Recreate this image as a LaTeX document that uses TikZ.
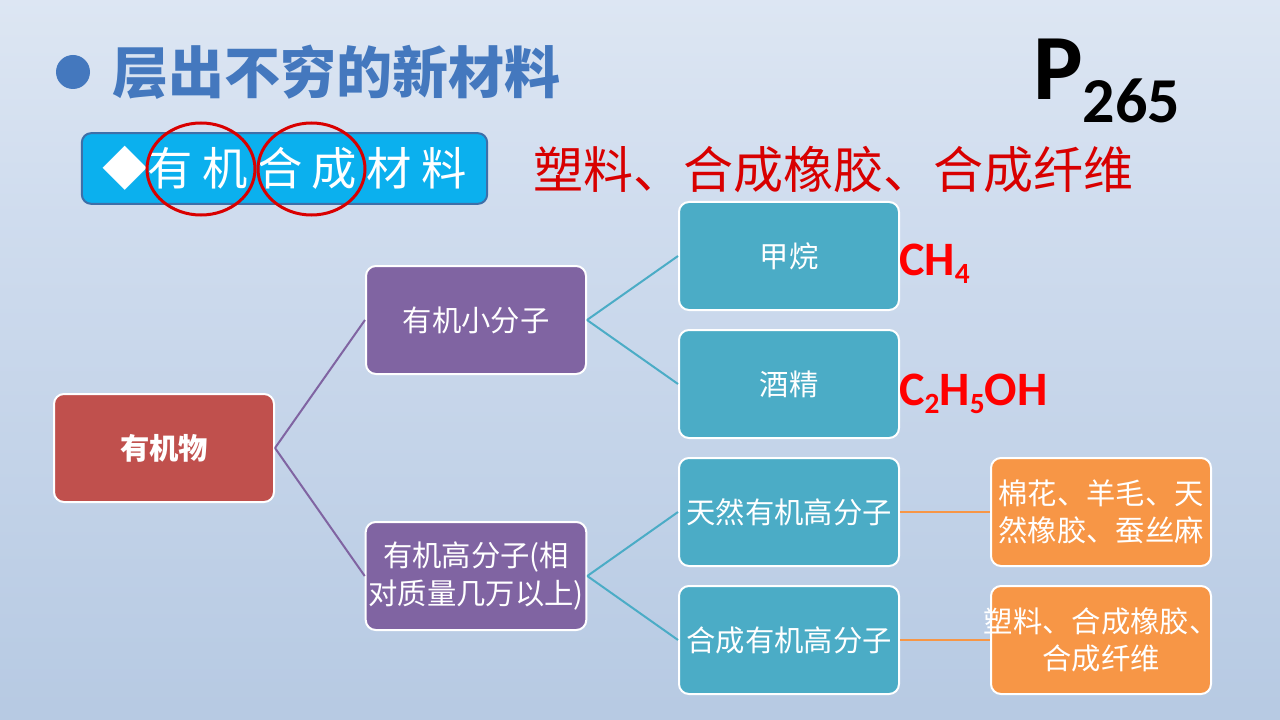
\documentclass[tikz,border=0pt]{standalone}
\usepackage{fontspec}
\setmainfont{Carlito}
\newfontfamily\cjk{Noto Sans CJK SC}
\usetikzlibrary{positioning}
\definecolor{rootred}{HTML}{C0504D}
\definecolor{midpurple}{HTML}{8064A2}
\definecolor{leafteal}{HTML}{4BACC6}
\definecolor{exorange}{HTML}{F79646}
\definecolor{titleblue}{HTML}{4478BE}
\definecolor{tagcyan}{HTML}{0BB0EE}
\definecolor{tagedge}{HTML}{3E6FA8}
\definecolor{headred}{HTML}{D80000}
\definecolor{bgtop}{HTML}{F4F7FB}
\definecolor{bgmid}{HTML}{CFDCEE}
\definecolor{bglow}{HTML}{B3C7E1}
\definecolor{bgbot}{HTML}{C4D4E9}
\pgfdeclareverticalshading{slidebg}{100bp}{color(0bp)=(bgbot); color(20bp)=(bglow); color(60bp)=(bgmid); color(100bp)=(bgtop)}
\newcommand{\chemsub}[1]{\raisebox{-6pt}{\fontsize{22}{22}\selectfont #1}}
\tikzset{
  orgbox/.style={draw=white, line width=1.5pt, rounded corners=7.5pt, align=center, minimum width=165pt, minimum height=81pt, inner sep=2pt, text=white, font=\cjk\fontsize{22}{28}\selectfont},
  rootbox/.style={orgbox, fill=rootred, font=\cjk\bfseries\fontsize{22}{28}\selectfont},
  midbox/.style={orgbox, fill=midpurple},
  leafbox/.style={orgbox, fill=leafteal},
  examplebox/.style={orgbox, fill=exorange},
  rootlink/.style={draw=midpurple, line width=1.5pt},
  midlink/.style={draw=leafteal, line width=1.5pt},
  leaflink/.style={draw=exorange, line width=1.5pt},
  formula/.style={anchor=base west, inner sep=0pt, text=red, font=\bfseries\fontsize{36}{36}\selectfont},
  ring/.style={draw=red!85!black, line width=2.25pt}
}
\begin{document}
\begin{tikzpicture}[x=0.75pt, y=-0.75pt]
\useasboundingbox (0,0) rectangle (1280,720);
\shade[shading=slidebg] (0,0) rectangle (1280,720);
% heading
\fill[titleblue] (73,72) circle [radius=17];
\node[anchor=west, inner sep=0pt, text=titleblue, font=\cjk\bfseries\fontsize{42}{42}\selectfont] (title) at (112,72) {层出不穷的新材料};
\node[anchor=base west, inner sep=0pt, font=\bfseries\fontsize{70}{70}\selectfont] (page) at (1033,100) {P\raisebox{-17pt}{\fontsize{48}{48}\selectfont 265}};
\node[draw=tagedge, line width=1.5pt, fill=tagcyan, rounded corners=7pt, minimum width=304pt, minimum height=53pt, text=white, font=\cjk\fontsize{34}{34}\selectfont] (tag) at (284.5,168.5) {◆有\hspace{7pt}机\hspace{7pt}合\hspace{7pt}成\hspace{7pt}材\hspace{7pt}料};
\draw[ring] (201,169) ellipse [x radius=54, y radius=46];
\draw[ring] (311.5,169) ellipse [x radius=53.5, y radius=46];
\node[anchor=west, inner sep=0pt, text=headred, font=\cjk\fontsize{37.5}{37.5}\selectfont] (kinds) at (533,170) {塑料、合成橡胶、合成纤维};
% tree
\node[rootbox] (organic) at (164,448) {有机物};
\node[midbox] (small) at (476,320) {有机小分子};
\node[midbox] (polymer) at (476,576) {有机高分子(相\\对质量几万以上)};
\node[leafbox] (methane) at (789,256) {甲烷};
\node[leafbox, below=13.5pt of methane] (ethanol) {酒精};
\node[leafbox, below=13.5pt of ethanol] (natural) {天然有机高分子};
\node[leafbox, below=13.5pt of natural] (synthetic) {合成有机高分子};
\node[examplebox, right=67.5pt of natural] (natex) {棉花、羊毛、天\\然橡胶、蚕丝麻};
\node[examplebox, right=67.5pt of synthetic] (synex) {\makebox[160pt]{塑料、合成橡胶、}\\合成纤维};
\draw[rootlink] (organic.east) -- (small.west);
\draw[rootlink] (organic.east) -- (polymer.west);
\draw[midlink] (small.east) -- (methane.west);
\draw[midlink] (small.east) -- (ethanol.west);
\draw[midlink] (polymer.east) -- (natural.west);
\draw[midlink] (polymer.east) -- (synthetic.west);
\draw[leaflink] (natural) -- (natex);
\draw[leaflink] (synthetic) -- (synex);
% formulas
\node[formula] (ch4) at (899,275) {CH\chemsub{4}};
\node[formula] (c2h5oh) at (899,405) {C\chemsub{2}H\chemsub{5}OH};
\end{tikzpicture}
\end{document}
